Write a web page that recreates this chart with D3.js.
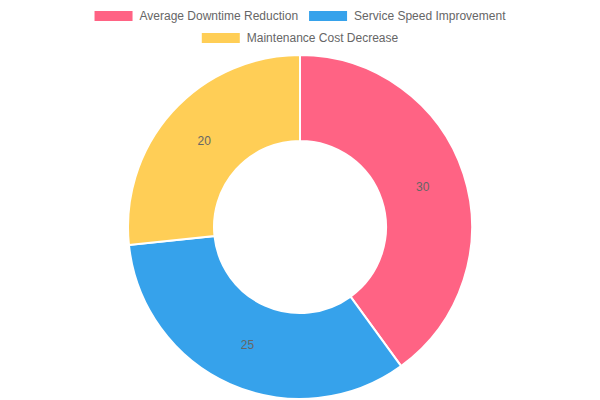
<!DOCTYPE html>
<html><head><meta charset="utf-8">
<script src="https://cdn.jsdelivr.net/npm/d3@7"></script>
<style>html,body{margin:0;padding:0;background:#fff}svg{display:block}</style>
</head><body>
<svg id="c" width="600" height="400"></svg>
<script>
const categories = ["Average Downtime Reduction", "Service Speed Improvement", "Maintenance Cost Decrease"];
const values = [30, 25, 20];
const colors = ["#FF6384", "#36A2EB", "#FFCE56"];

const svg = d3.select("#c");
const W = 600, H = 400;
const font = "'Liberation Sans', Arial, Helvetica, sans-serif";

// Legend
const legend = svg.append("g");
const boxW = 38, boxH = 10, fs = 12, gap = 7, itemPad = 11;
const measure = legend.append("text").attr("font-family", font).attr("font-size", fs);
const widths = categories.map(c => { measure.text(c); return measure.node().getComputedTextLength(); });
measure.remove();
const maxW = 520;
const rows = [[]]; let rw = 0;
categories.forEach((c, i) => {
  const w = boxW + gap + widths[i];
  const cur = rows[rows.length - 1];
  const add = cur.length ? itemPad + w : w;
  if (cur.length && rw + add > maxW) { rows.push([i]); rw = w; }
  else { cur.push(i); rw += add; }
});
rows.forEach((r, ri) => {
  const total = r.reduce((s, i, k) => s + boxW + gap + widths[i] + (k ? itemPad : 0), 0);
  let x = (W - total) / 2;
  const cy = 16 + ri * 22;
  r.forEach(i => {
    legend.append("rect").attr("x", x).attr("y", cy - 5).attr("width", boxW).attr("height", boxH).attr("fill", colors[i]);
    legend.append("text").attr("x", x + boxW + gap).attr("y", cy).attr("dy", "0.35em")
      .attr("font-family", font).attr("font-size", fs).attr("fill", "#666").text(categories[i]);
    x += boxW + gap + widths[i] + itemPad;
  });
});

// Doughnut
const cx = 300, cy = 227, R = 172, r0 = 86;
const pie = d3.pie().sort(null).value(d => d);
const arc = d3.arc().innerRadius(r0).outerRadius(R);
const labelArc = d3.arc().innerRadius((R + r0) / 2).outerRadius((R + r0) / 2);
const g = svg.append("g").attr("transform", `translate(${cx},${cy})`);
const arcs = pie(values);
g.selectAll("path").data(arcs).join("path")
  .attr("d", arc).attr("fill", (d, i) => colors[i])
  .attr("stroke", "#fff").attr("stroke-width", 2);
g.selectAll("text").data(arcs).join("text")
  .attr("transform", d => `translate(${labelArc.centroid(d)})`)
  .attr("text-anchor", "middle").attr("dy", "0.35em")
  .attr("font-family", font).attr("font-size", 12).attr("fill", "#666")
  .text(d => d.data);
</script>
</body></html>
